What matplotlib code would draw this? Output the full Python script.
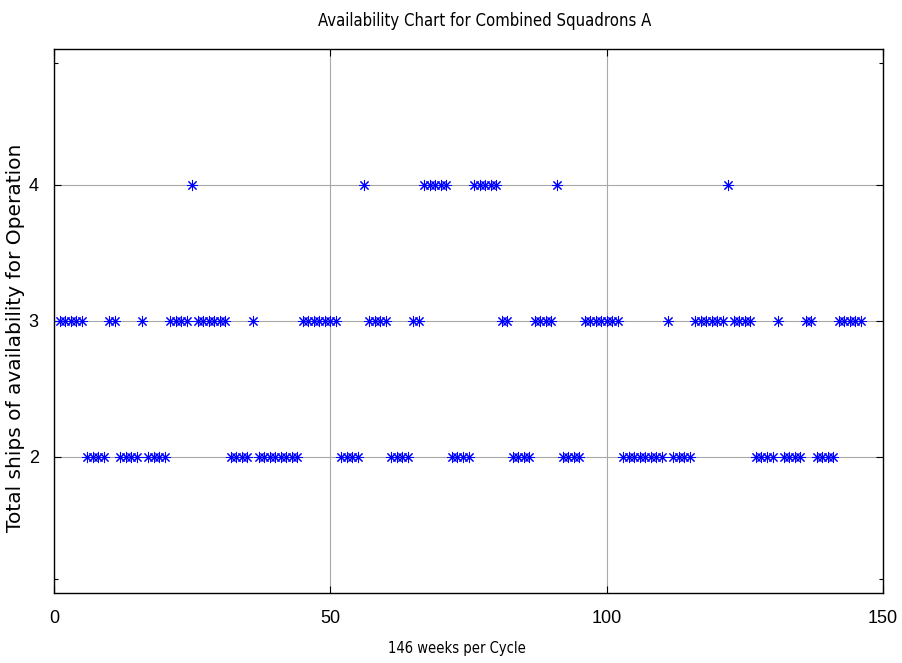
"""
Availability chart for combined squadrons: ships available per week.
"""
import numpy as np
import matplotlib.pyplot as plt
import matplotlib as mpl
from matplotlib.ticker import FixedLocator

mpl.rcParams.update({
    "font.family": ["Liberation Sans", "DejaVu Sans"],
    "xtick.direction": "in",
    "ytick.direction": "in",
})

# ships available for operation, week 1 .. 146
available = [
    3, 3, 3, 3, 3, 2, 2, 2, 2, 3,      # 1-10
    3, 2, 2, 2, 2, 3, 2, 2, 2, 2,      # 11-20
    3, 3, 3, 3, 4, 3, 3, 3, 3, 3,      # 21-30
    3, 2, 2, 2, 2, 3, 2, 2, 2, 2,      # 31-40
    2, 2, 2, 2, 3, 3, 3, 3, 3, 3,      # 41-50
    3, 2, 2, 2, 2, 4, 3, 3, 3, 3,      # 51-60
    2, 2, 2, 2, 3, 3, 4, 4, 4, 4,      # 61-70
    4, 2, 2, 2, 2, 4, 4, 4, 4, 4,      # 71-80
    3, 3, 2, 2, 2, 2, 3, 3, 3, 3,      # 81-90
    4, 2, 2, 2, 2, 3, 3, 3, 3, 3,      # 91-100
    3, 3, 2, 2, 2, 2, 2, 2, 2, 2,      # 101-110
    3, 2, 2, 2, 2, 3, 3, 3, 3, 3,      # 111-120
    3, 4, 3, 3, 3, 3, 2, 2, 2, 2,      # 121-130
    3, 2, 2, 2, 2, 3, 3, 2, 2, 2,      # 131-140
    2, 3, 3, 3, 3, 3,                  # 141-146
]
weeks = list(range(1, len(available) + 1))

x_ticks = [0, 50, 100, 150]
y_ticks = [2, 3, 4]
y_edge_ticks = [1.1, 4.9]


def main():
    fig = plt.figure(figsize=(9.02, 6.63), dpi=100)
    ax = fig.add_axes([0.0599, 0.1056, 0.9191, 0.8205])

    ax.plot(weeks, available, linestyle="none", marker=(8, 2, 0),
            markersize=8, markeredgewidth=0.75, color="#0000ff", zorder=3)

    ax.set_xlim(0, 150)
    ax.set_ylim(1, 5)
    ax.set_xticks(x_ticks)
    ax.set_yticks(y_ticks)
    ax.yaxis.set_minor_locator(FixedLocator(y_edge_ticks))
    ax.tick_params(which="major", length=5, width=0.8, top=True, right=True,
                   labelsize=13)
    ax.tick_params(axis="x", pad=12)
    ax.tick_params(axis="y", pad=11)
    ax.tick_params(which="minor", length=3, width=0.8, left=True, right=True)
    ax.grid(True, which="major", color="#a8a8a8", linewidth=0.8)
    ax.set_axisbelow(True)
    for sp in ax.spines.values():
        sp.set_linewidth(1.0)

    narrow = dict(family="DejaVu Sans", stretch="condensed")
    fig.text(0.537, 0.968, "Availability Chart for Combined Squadrons A",
             ha="center", va="center", fontsize=12, **narrow)
    fig.text(0.507, 0.022, "146 weeks per Cycle",
             ha="center", va="center", fontsize=10.5, **narrow)
    fig.text(0.017, 0.491, "Total ships of availability for Operation",
             rotation=90, ha="center", va="center", family="DejaVu Sans",
             fontsize=14.5)

    fig.savefig("out.png", dpi=100)
    plt.close(fig)


if __name__ == "__main__":
    main()
